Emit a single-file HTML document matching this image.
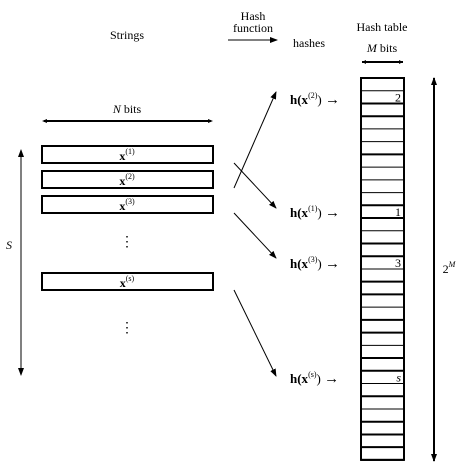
<!DOCTYPE html>
<html><head><meta charset="utf-8"><style>
body{margin:0;background:#fff}
svg{display:block;font-family:"Liberation Serif",serif;}
text{fill:#000}
</style></head><body>
<svg width="464" height="467" viewBox="0 0 464 467">
<defs><marker id="ah" markerUnits="userSpaceOnUse" markerWidth="8" markerHeight="6" refX="7" refY="3" orient="auto"><path d="M0,0 L8,3 L0,6 z" fill="#000"/></marker></defs>
<g font-size="12" text-anchor="middle">
<text x="127" y="39">Strings</text>
<text x="253" y="20">Hash</text>
<text x="253" y="32">function</text>
<text x="309" y="47">hashes</text>
<text x="382" y="31">Hash table</text>
<text x="382" y="52"><tspan font-style="italic">M</tspan> bits</text>
<text x="127" y="113"><tspan font-style="italic">N</tspan> bits</text>
<text x="9" y="249" font-style="italic">S</text>
<text x="449" y="273">2<tspan font-size="8" dy="-6" font-style="italic">M</tspan></text>
</g>
<line x1="228" y1="40" x2="277" y2="40" stroke="#000" stroke-width="1" marker-end="url(#ah)"/>
<line x1="362" y1="62" x2="403" y2="62" stroke="#000" stroke-width="2"/>
<path d="M362,62 l4,-2 v4z M403,62 l-4,-2 v4z" fill="#000"/>
<line x1="44" y1="121" x2="211" y2="121" stroke="#000" stroke-width="2"/>
<path d="M42,121 l5,-2 v4z M213,121 l-5,-2 v4z" fill="#000"/>
<line x1="21" y1="375" x2="21" y2="150" stroke="#000" stroke-width="1" marker-end="url(#ah)"/>
<line x1="21" y1="160" x2="21" y2="375" stroke="#000" stroke-width="1" marker-end="url(#ah)"/>
<line x1="434" y1="458" x2="434" y2="78" stroke="#000" stroke-width="2" marker-end="url(#ah)"/>
<line x1="434" y1="90" x2="434" y2="461" stroke="#000" stroke-width="2" marker-end="url(#ah)"/>
<g stroke="#000" stroke-width="2" fill="none">
<rect x="42" y="146" width="171" height="17"/>
<rect x="42" y="171" width="171" height="17"/>
<rect x="42" y="196" width="171" height="17"/>
<rect x="42" y="273" width="171" height="17"/>
</g>
<g font-size="12" text-anchor="middle" font-weight="bold">
<text x="127" y="160">x<tspan font-size="8" dy="-6" font-weight="normal">(1)</tspan></text>
<text x="127" y="185">x<tspan font-size="8" dy="-6" font-weight="normal">(2)</tspan></text>
<text x="127" y="210">x<tspan font-size="8" dy="-6" font-weight="normal">(3)</tspan></text>
<text x="127" y="287">x<tspan font-size="8" dy="-6" font-weight="normal">(s)</tspan></text>
</g>
<g font-size="14" text-anchor="middle">
<text x="127" y="246">⋮</text><text x="127" y="332">⋮</text></g>
<g stroke="#000" stroke-width="1">
<line x1="234" y1="188" x2="276" y2="92" marker-end="url(#ah)"/>
<line x1="234" y1="163" x2="276" y2="208" marker-end="url(#ah)"/>
<line x1="234" y1="213" x2="276" y2="258" marker-end="url(#ah)"/>
<line x1="234" y1="290" x2="276" y2="376" marker-end="url(#ah)"/>
</g>
<g font-size="13">
<text x="290" y="104"><tspan font-weight="bold">h(x</tspan><tspan font-size="8" dy="-6">(2)</tspan><tspan dy="6">)</tspan> <tspan font-size="15">→</tspan></text>
<text x="290" y="217"><tspan font-weight="bold">h(x</tspan><tspan font-size="8" dy="-6">(1)</tspan><tspan dy="6">)</tspan> <tspan font-size="15">→</tspan></text>
<text x="290" y="268"><tspan font-weight="bold">h(x</tspan><tspan font-size="8" dy="-6">(3)</tspan><tspan dy="6">)</tspan> <tspan font-size="15">→</tspan></text>
<text x="290" y="383"><tspan font-weight="bold">h(x</tspan><tspan font-size="8" dy="-6">(s)</tspan><tspan dy="6">)</tspan> <tspan font-size="15">→</tspan></text>
</g>
<g id="table"></g>
<script>
const rows=30, top0=78, rh=12.73, x0=361, w=43;
const thick=[1,0,1,1,0,0,1,0,0,0,1,1,0,1,1,0,1,1,0,1,1,0,1,1,0,1,0,1,1,1,1];
const entries={1:"2",10:"1",14:"3",23:"s"};
const g=document.getElementById('table');
const ns="http://www.w3.org/2000/svg";
for(let i=0;i<=rows;i++){
  const l=document.createElementNS(ns,'line');
  
  
  const y=top0+i*rh;
  l.setAttribute('x1',x0);l.setAttribute('x2',x0+w);l.setAttribute('y1',y);l.setAttribute('y2',y);
  l.setAttribute('stroke','#000');l.setAttribute('stroke-width',thick[i]?2:1);
  g.appendChild(l);
}
const r=document.createElementNS(ns,'rect');


r.setAttribute('x',x0);r.setAttribute('y',top0);r.setAttribute('width',w);r.setAttribute('height',rows*rh);
r.setAttribute('fill','none');r.setAttribute('stroke','#000');r.setAttribute('stroke-width',2);
g.appendChild(r);
for(const k in entries){
  const t=document.createElementNS(ns,'text');
  
  
  t.setAttribute('x',x0+w-3);t.setAttribute('y',top0+(+k+1)*rh-2);
  t.setAttribute('text-anchor','end');t.setAttribute('font-size','12');
  if(entries[k]==='s')t.setAttribute('font-style','italic');
  t.textContent=entries[k];g.appendChild(t);
}
</script>
</svg>
</body></html>
